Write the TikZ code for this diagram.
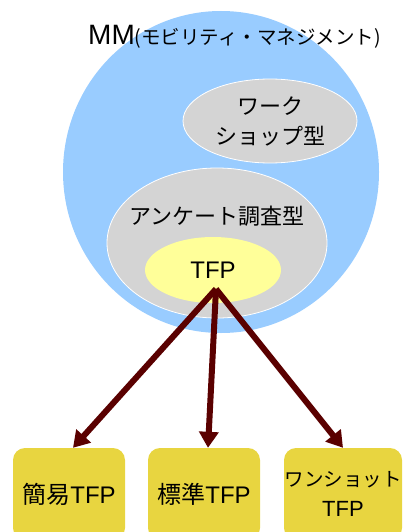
\documentclass[tikz,border=0pt]{standalone}
\usepackage{fontspec}
\setmainfont{Liberation Sans}
\newfontfamily\jp{Noto Sans CJK JP}
\usetikzlibrary{shapes.geometric,arrows.meta}
\definecolor{mmblue}{HTML}{99CCFF}
\definecolor{grayfill}{HTML}{D4D4D4}
\definecolor{tfpyellow}{HTML}{FFFF99}
\definecolor{boxgold}{HTML}{E8D540}
\definecolor{arrowred}{HTML}{5A0000}
\begin{document}
\begin{tikzpicture}[x=1pt,y=-1pt,
  oval/.style={ellipse, inner sep=0pt, align=center},
  grayoval/.style={oval, fill=grayfill, draw=white, line width=0.8pt},
  tbox/.style={rectangle, rounded corners=12pt, fill=boxgold, minimum height=92pt, align=center, inner sep=0pt},
  conn/.style={draw=arrowred, line width=6pt, -{Triangle[length=16pt,width=19pt]}},
  txt/.style={font=\fontsize{22pt}{32pt}\selectfont},
  boxtxt/.style={font=\fontsize{24pt}{32pt}\selectfont}]
\useasboundingbox (0,0) rectangle (403,532);
\clip (0,0) rectangle (403,532);
\node[oval, fill=mmblue, minimum width=316pt, minimum height=322pt] (mm) at (221,172) {};
\node[anchor=base west, inner sep=0pt] (mmlabel) at (88,45) {\fontsize{28pt}{30pt}\selectfont MM{\jp\fontsize{19.5pt}{20pt}\selectfont (モビリティ・マネジメント)}};
\node[grayoval, txt, minimum width=174pt, minimum height=84pt] (ws) at (270,121) {\jp ワーク\\[-2pt]\jp ショップ型};
\node[grayoval, minimum width=220pt, minimum height=150pt] (ank) at (217,243) {};
\node[txt, inner sep=0pt] (anklabel) at (217,216) {\jp アンケート調査型};
\node[oval, font=\fontsize{24pt}{28pt}\selectfont, fill=tfpyellow, minimum width=136pt, minimum height=66pt] (tfp) at (213,270) {TFP};
\coordinate (src) at (216,289);
\node[tbox, boxtxt, minimum width=112pt] (b1) at (69,494) {{\jp 簡易}TFP};
\node[tbox, boxtxt, minimum width=112pt] (b2) at (204,494) {{\jp 標準}TFP};
\node[tbox, minimum width=118pt, font=\fontsize{19.5pt}{30pt}\selectfont] (b3) at (343,494) {{\jp ワンショット}\\{\fontsize{22pt}{26pt}\selectfont TFP}};
\draw[conn] (src) -- ([xshift=4pt]b1.north);
\draw[conn] (src) -- ([xshift=4pt]b2.north);
\draw[conn] (src) -- (b3.north);
\end{tikzpicture}
\end{document}
